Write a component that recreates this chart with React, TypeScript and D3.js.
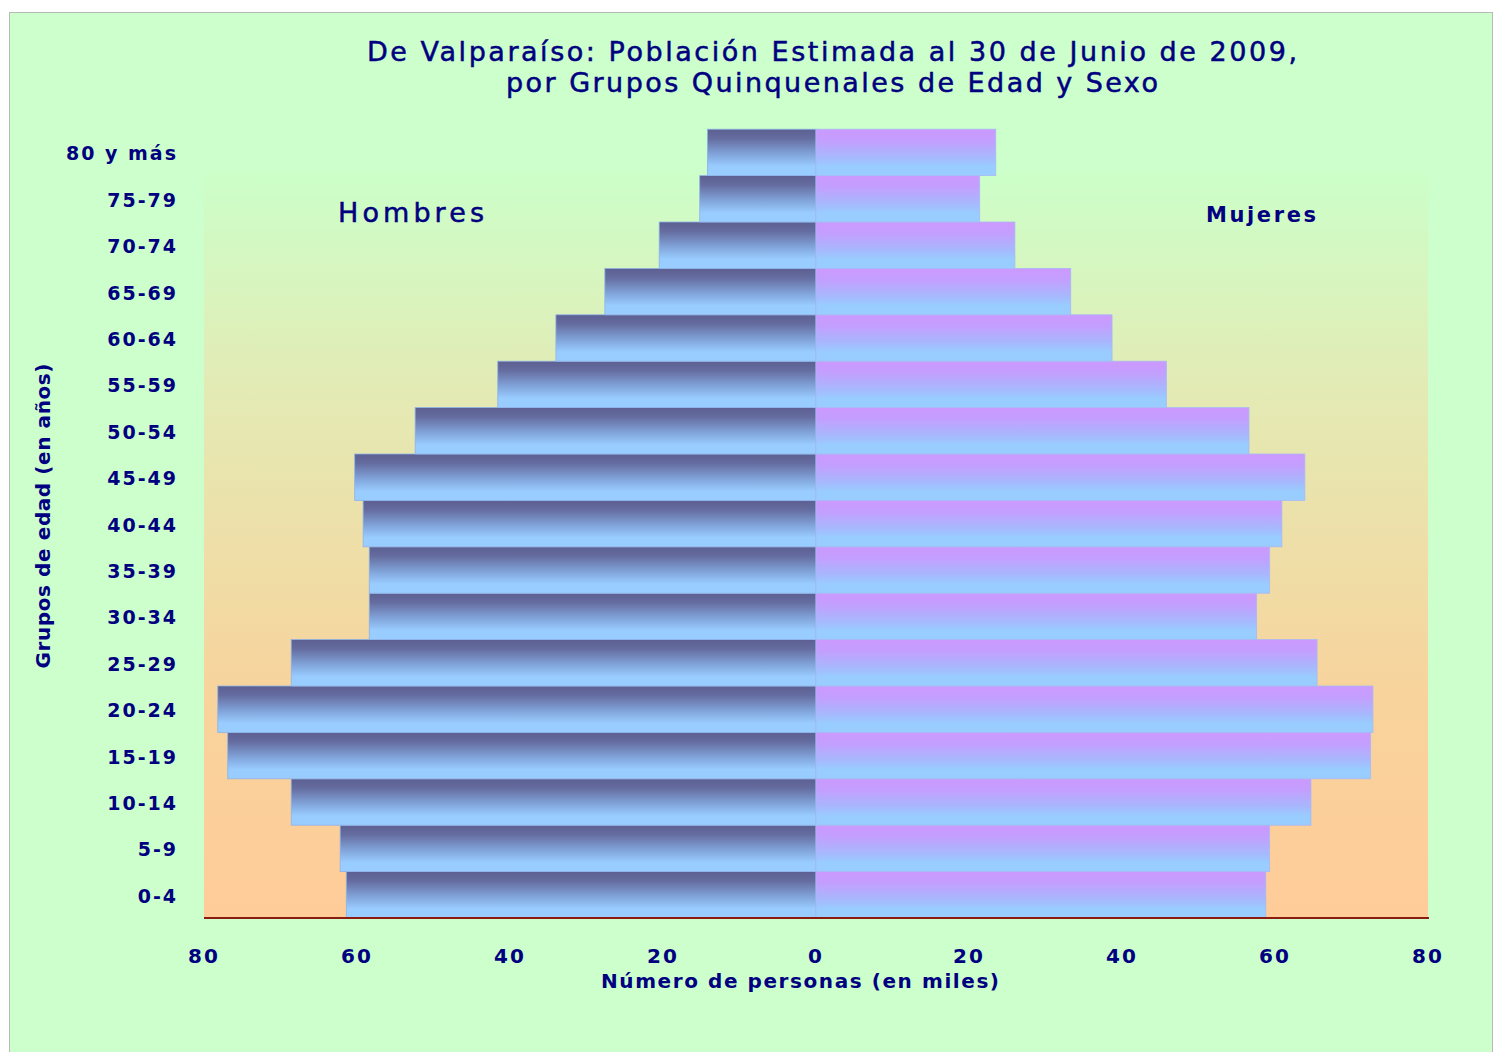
import React from "react";
import * as d3 from "d3";

const ageGroups = ["0-4","5-9","10-14","15-19","20-24","25-29","30-34","35-39","40-44","45-49","50-54","55-59","60-64","65-69","70-74","75-79","80 y más"];
const hombres = [61.4,62.2,68.6,76.9,78.2,68.6,58.4,58.4,59.2,60.3,52.4,41.6,34.0,27.6,20.5,15.2,14.2];
const mujeres = [58.8,59.3,64.7,72.5,72.8,65.5,57.6,59.3,60.9,63.9,56.6,45.8,38.7,33.3,26.0,21.4,23.5];
const leftTicks = [80,60,40,20];
const rightTicks = [0,20,40,60,80];
const titleLines = ["De Valparaíso: Población Estimada al 30 de Junio de 2009,","por Grupos Quinquenales de Edad y Sexo"];

const W = 1493, H = 1052;
const NAVY = "#000080";
const FONT = "'DejaVu Sans', Verdana, sans-serif";

export default function App() {
  const x0 = 816, left = 204, right = 1428, bottom = 918, barTop = 129.2, plotTop = 171;
  const xM = d3.scaleLinear().domain([0, 80]).range([x0, left]);
  const xF = d3.scaleLinear().domain([0, 80]).range([x0, right]);
  const y = d3.scaleBand<string>().domain([...ageGroups].reverse()).range([barTop, bottom]).paddingInner(0).paddingOuter(0);
  const bw = y.bandwidth();

  return (
    <svg width={W} height={H} style={{ position: "absolute", left: 0, top: 0, display: "block" }} fontFamily={FONT}>
      <defs>
        <linearGradient id="plotBg" x1="0" y1="0" x2="0" y2="1">
          <stop offset="0" stopColor="#ccffc9" />
          <stop offset="0.3" stopColor="#e4eab4" />
          <stop offset="0.7" stopColor="#f8d39c" />
          <stop offset="1" stopColor="#ffcc99" />
        </linearGradient>
        <linearGradient id="maleG" x1="0" y1="0" x2="0" y2="1">
          <stop offset="0" stopColor="#5c5f92" />
          <stop offset="0.2" stopColor="#656c9f" />
          <stop offset="0.55" stopColor="#82a6dc" />
          <stop offset="0.8" stopColor="#99ccff" />
          <stop offset="1" stopColor="#99ccff" />
        </linearGradient>
        <linearGradient id="femaleG" x1="0" y1="0" x2="0" y2="1">
          <stop offset="0" stopColor="#cc99ff" />
          <stop offset="0.25" stopColor="#c39ffe" />
          <stop offset="0.6" stopColor="#a7b8fd" />
          <stop offset="0.8" stopColor="#99ccff" />
          <stop offset="1" stopColor="#99ccff" />
        </linearGradient>
      </defs>
      <rect x={0} y={0} width={W} height={H} fill="#ffffff" />
      <rect x={9.5} y={12.5} width={W - 10} height={H - 12} fill="#ccffcc" stroke="#b8b8b8" strokeWidth={1} />

      {/* title */}
      {titleLines.map((t, i) => (
        <text key={i} x={832} y={61 + i * 31} textAnchor="middle" fontSize={27} fill={NAVY} stroke={NAVY} strokeWidth={0.5}
          textLength={i === 0 ? 930 : 652} lengthAdjust="spacing">{t}</text>
      ))}

      {/* plot area */}
      <rect x={left} y={plotTop} width={right - left} height={bottom - plotTop} fill="url(#plotBg)" />

      {/* bars */}
      {ageGroups.map((g, i) => {
        const yy = y(g)!;
        return (
          <g key={g}>
            <rect x={xM(hombres[i])} y={yy} width={x0 - xM(hombres[i])} height={bw} fill="url(#maleG)" stroke="#8fb2e6" strokeWidth={0.8} />
            <rect x={x0} y={yy} width={xF(mujeres[i]) - x0} height={bw} fill="url(#femaleG)" stroke="#a9b8f5" strokeWidth={0.8} />
          </g>
        );
      })}

      {/* baseline */}
      <line x1={left} x2={right + 1} y1={bottom} y2={bottom} stroke="#8b1a10" strokeWidth={2} />

      {/* category labels */}
      {ageGroups.map((g) => (
        <text key={g} x={178} y={y(g)! + bw / 2 + 8} textAnchor="end" fontSize={19} fontWeight="bold" fill={NAVY} letterSpacing={2}>{g}</text>
      ))}

      {/* x ticks */}
      {leftTicks.map((t) => (
        <text key={"l" + t} x={xM(t)} y={963} textAnchor="middle" fontSize={20} fontWeight="bold" fill={NAVY} letterSpacing={2}>{t}</text>
      ))}
      {rightTicks.map((t) => (
        <text key={"r" + t} x={xF(t)} y={963} textAnchor="middle" fontSize={20} fontWeight="bold" fill={NAVY} letterSpacing={2}>{t}</text>
      ))}
      <text x={800} y={988} textAnchor="middle" fontSize={20} fontWeight="bold" fill={NAVY} textLength={398} lengthAdjust="spacing">Número de personas (en miles)</text>

      {/* y title */}
      <text transform="translate(50,516) rotate(-90)" textAnchor="middle" fontSize={20} fontWeight="bold" fill={NAVY} textLength={305} lengthAdjust="spacing">Grupos de edad (en años)</text>

      {/* series labels */}
      <text x={338} y={222} fontSize={27} fill={NAVY} stroke={NAVY} strokeWidth={0.5} textLength={146} lengthAdjust="spacing">Hombres</text>
      <text x={1206} y={222} fontSize={21} fontWeight="bold" fill={NAVY} textLength={110} lengthAdjust="spacing">Mujeres</text>
    </svg>
  );
}
